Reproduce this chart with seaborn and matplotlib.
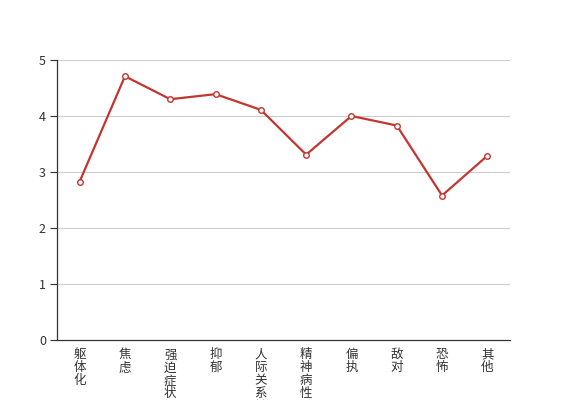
import numpy as np
import pandas as pd
import matplotlib
matplotlib.use("Agg")
import matplotlib.pyplot as plt
import seaborn as sns

# data
categories = ["躯体化", "焦虑", "强迫症状", "抑郁", "人际关系敏感",
              "精神病性", "偏执", "敌对", "恐怖", "其他"]
scores = [2.83, 4.71, 4.30, 4.39, 4.11, 3.31, 4.00, 3.83, 2.58, 3.29]
y_ticks = [0, 1, 2, 3, 4, 5]

sns.set_style("white")
plt.rcParams["font.family"] = ["Noto Sans CJK SC", "DejaVu Sans"]

df = pd.DataFrame({"cat": categories, "score": scores})

fig = plt.figure(figsize=(5.67, 4), dpi=100)
ax = fig.add_axes([57 / 567, 60 / 400, 453 / 567, 280 / 400])

sns.lineplot(data=df, x="cat", y="score", ax=ax, color="#c23531", linewidth=1.6,
             marker="o", markersize=4, markerfacecolor="white",
             markeredgecolor="#c23531", markeredgewidth=1, sort=False)

ax.set_xlim(-0.5, len(categories) - 0.5)
ax.set_ylim(0, 5)
ax.set_yticks(y_ticks)
for t in y_ticks[1:]:
    ax.axhline(t, color="#cccccc", linewidth=0.8, zorder=0)

ax.set_xticks(range(len(categories)))
ax.set_xticklabels(["\n".join(c) for c in categories], rotation=0,
                   va="top", linespacing=1.0)
ax.tick_params(axis="x", which="major", length=0, pad=6, labelsize=9, colors="#333333")
ax.set_xticks(np.arange(-0.5, len(categories)), minor=True)
ax.tick_params(axis="x", which="minor", length=5, width=0.8, color="#333333", direction="out")
ax.tick_params(axis="y", length=5, width=0.8, color="#333333", direction="out",
               labelsize=9, colors="#333333", pad=3, left=True)

ax.set_xlabel("")
ax.set_ylabel("")
for s in ["top", "right"]:
    ax.spines[s].set_visible(False)
for s in ["left", "bottom"]:
    ax.spines[s].set_color("#333333")
    ax.spines[s].set_linewidth(0.9)

fig.savefig("out.png", dpi=100)
